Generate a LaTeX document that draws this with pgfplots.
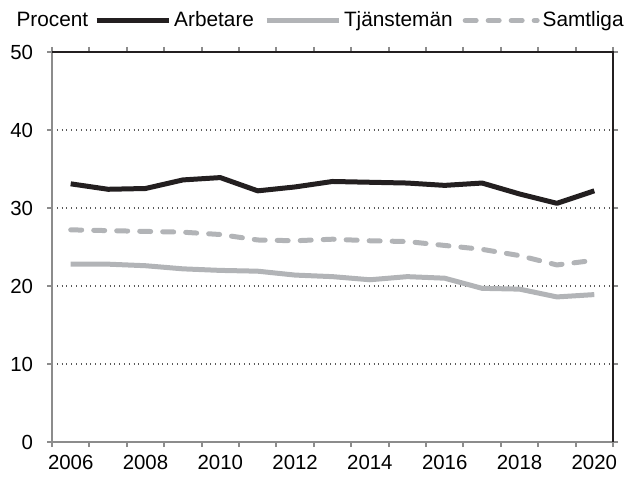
\documentclass[border=0pt]{standalone}
\usepackage{fontspec}
\setmainfont{Liberation Sans}
\usepackage{pgfplots}
\pgfplotsset{compat=1.18}
\definecolor{dark}{HTML}{231F20}
\definecolor{lgrey}{HTML}{B2B4B7}
\definecolor{axgrey}{HTML}{8C8C8C}

\begin{document}
\begin{tikzpicture}
\begin{axis}[
    scale only axis,
    width=280.5pt, height=195pt,
    xmin=2005.5, xmax=2020.5,
    ymin=0, ymax=50,
    xtick={2005.5,2006.5,...,2020.5},
    xticklabels={},
    extra x ticks={2006,2008,2010,2012,2014,2016,2018,2020},
    extra x tick labels={2006,2008,2010,2012,2014,2016,2018,2020},
    extra x tick style={major tick length=0pt, grid=none},
    ytick={0,10,...,50},
    ymajorgrids,
    grid style={dotted, line width=0.8pt, color=black!65},
    tick align=outside,
    major tick length=2.5pt,
    tick style={axgrey, line width=1pt},
    axis line style={axgrey, line width=1pt},
    /pgf/number format/assume math mode=true,
    /pgf/number format/1000 sep={},
    tick label style={font=\fontsize{10.2}{12}\selectfont},
    xticklabel style={yshift=-3pt},
    yticklabel style={xshift=-3.5pt},
    legend columns=-1,
    legend style={draw=none, fill=none, inner sep=0pt,
        at={(1,1)}, anchor=south east, xshift=7pt, yshift=10pt,
        font=\fontsize{10.4}{12}\selectfont,
        nodes={inner xsep=1.5pt, inner ysep=1pt},
        /tikz/every even column/.append style={column sep=3.5pt}},
    legend image code/.code={\draw[#1] (0pt,0pt) -- (36pt,0pt);},
]
\addlegendimage{empty legend}
\addlegendentry{Procent\hspace*{-2pt}}

\addplot[dark, line width=2.5pt, line join=round] coordinates {
    (2006,33.1) (2007,32.4) (2008,32.5) (2009,33.6) (2010,33.9)
    (2011,32.2) (2012,32.7) (2013,33.4) (2014,33.3) (2015,33.2)
    (2016,32.9) (2017,33.2) (2018,31.8) (2019,30.6) (2020,32.2)
};
\addlegendentry{Arbetare}

\addplot[lgrey, line width=2.5pt, line join=round] coordinates {
    (2006,22.8) (2007,22.8) (2008,22.6) (2009,22.2) (2010,22.0)
    (2011,21.9) (2012,21.4) (2013,21.2) (2014,20.8) (2015,21.2)
    (2016,21.0) (2017,19.7) (2018,19.6) (2019,18.6) (2020,18.9)
};
\addlegendentry{Tjänstemän}

\addplot[lgrey, line width=2.5pt, line join=round, line cap=round,
    dash pattern=on 5.5pt off 6pt] coordinates {
    (2006,27.2) (2007,27.1) (2008,27.0) (2009,26.9) (2010,26.6)
    (2011,25.9) (2012,25.8) (2013,26.0) (2014,25.8) (2015,25.7)
    (2016,25.2) (2017,24.7) (2018,23.9) (2019,22.7) (2020,23.3)
};
\addlegendentry{Samtliga}

\coordinate (bl) at (rel axis cs:0,0);
\coordinate (tr) at (rel axis cs:1,1);
\end{axis}
\draw[dark, line width=1pt] (bl |- tr) -- (tr) -- (tr |- bl);
\path (bl) ++(-26pt,-16.5pt);
\path (tr) ++(8.5pt,26pt);
\end{tikzpicture}
\end{document}
